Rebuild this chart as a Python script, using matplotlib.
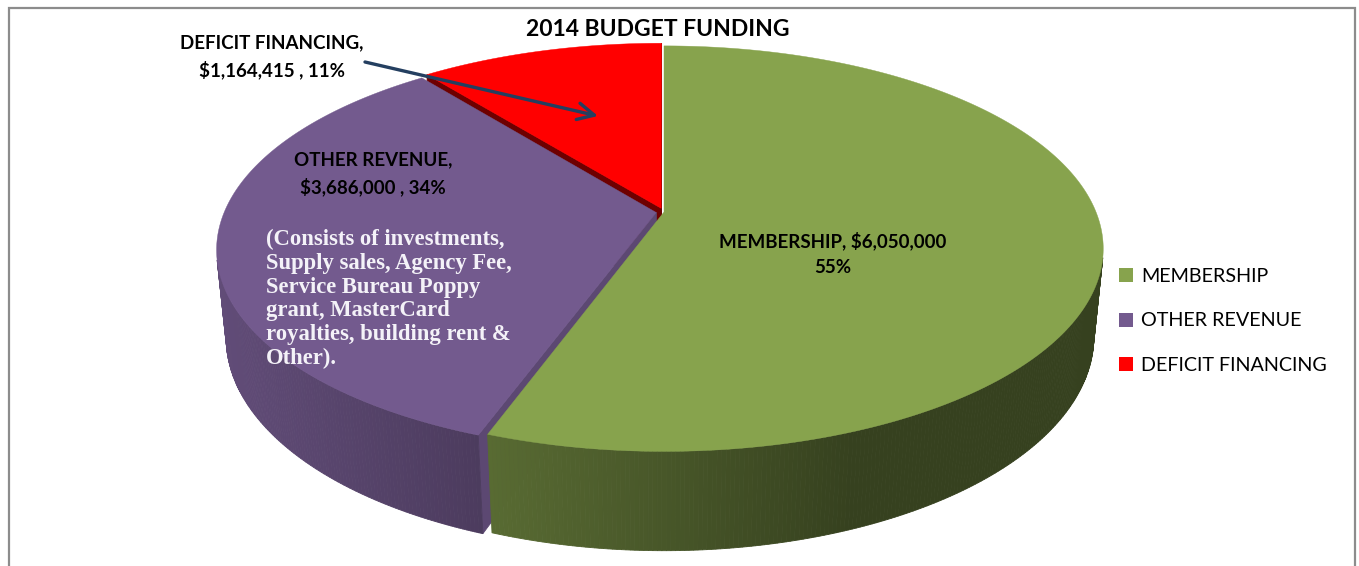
import numpy as np
import matplotlib
matplotlib.use("Agg")
import matplotlib.pyplot as plt
from matplotlib.patches import Polygon, Patch
from matplotlib.colors import to_rgb

# ── datos ────────────────────────────────────────────────────────────────────
title = "2014 BUDGET FUNDING"
labels = ["MEMBERSHIP", "OTHER REVENUE", "DEFICIT FINANCING"]
amounts = [6050000, 3686000, 1164415]
pct_labels = ["55%", "34%", "11%"]
note = ("(Consists of investments,\nSupply sales, Agency Fee,\nService Bureau Poppy\n"
        "grant, MasterCard\nroyalties, building rent &\nOther).")

colors = ["#87a34d", "#735a8e", "#ff0000"]
explode = [0.0, 0.018, 0.02]
cut_shade = [0.45, 0.80, 0.43]   # tono de las caras de corte radiales

# ── proyeccion en perspectiva del disco ──────────────────────────────────────
ELEV = np.radians(27)
DIST = 4.93
FOC = 432 * DIST
CX, CY = 664, 212
DEPTH = 0.23
CAM = np.array([0.0, -DIST * np.cos(ELEV), DIST * np.sin(ELEV)])


def project(X, Y, Z):
    d = DIST + Y * np.cos(ELEV) - Z * np.sin(ELEV)
    u = FOC * X / d
    v = FOC * (Y * np.sin(ELEV) + Z * np.cos(ELEV)) / d
    return CX + u, CY - v


def depth(X, Y, Z):
    return DIST + Y * np.cos(ELEV) - Z * np.sin(ELEV)


def shade(rgb, x):
    f = np.interp(x, [215, 850], [0.85, 0.40])
    return tuple(np.clip(np.array(rgb) * f, 0, 1))


fig = plt.figure(figsize=(13.59, 5.66), dpi=100)
ax = fig.add_axes([0, 0, 1, 1])
ax.set_xlim(0, 1359)
ax.set_ylim(566, 0)
ax.axis("off")

total = sum(amounts)
spans = [360 * a / total for a in amounts]
walls = []   # (profundidad, xy, color)
tops = []
start = 90.0
for i, sp in enumerate(spans):
    t2 = np.radians(start)
    t1 = np.radians(start - sp)
    mid = (t1 + t2) / 2
    ox, oy = explode[i] * np.cos(mid), explode[i] * np.sin(mid)
    rgb = to_rgb(colors[i])
    th = np.linspace(t2, t1, max(int(sp * 2), 8))

    # cara superior
    xs, ys = project(ox + np.cos(th), oy + np.sin(th), 0 * th)
    vx, vy = project(ox, oy, 0)
    tops.append((depth(ox + np.cos(mid) * 0.5, oy + np.sin(mid) * 0.5, 0),
                 np.column_stack([np.r_[vx, xs], np.r_[vy, ys]]), rgb))

    # pared exterior en tiras
    for a, b in zip(th[:-1], th[1:]):
        m = (a + b) / 2
        n = np.array([np.cos(m), np.sin(m), 0])
        p = np.array([ox + np.cos(m), oy + np.sin(m), 0])
        if np.dot(n, CAM - p) <= 0:
            continue
        ang = np.array([a, b, b, a])
        zz = np.array([0, 0, -DEPTH, -DEPTH])
        px, py = project(ox + np.cos(ang), oy + np.sin(ang), zz)
        walls.append((depth(p[0], p[1], -DEPTH / 2), np.column_stack([px, py]),
                      shade(rgb, px.mean())))

    # caras de corte radiales
    for t, nrm in ((t2, t2 + np.pi / 2), (t1, t1 - np.pi / 2)):
        n = np.array([np.cos(nrm), np.sin(nrm), 0])
        p = np.array([ox + 0.5 * np.cos(t), oy + 0.5 * np.sin(t), 0])
        if np.dot(n, CAM - p) <= 0:
            continue
        rr = np.array([0, 1, 1, 0])
        zz = np.array([0, 0, -DEPTH, -DEPTH])
        px, py = project(ox + rr * np.cos(t), oy + rr * np.sin(t), zz)
        walls.append((depth(p[0], p[1], -DEPTH / 2), np.column_stack([px, py]),
                      tuple(np.array(rgb) * cut_shade[i])))
    start -= sp

for _, xy, c in sorted(walls, key=lambda w: -w[0]):
    ax.add_patch(Polygon(xy, closed=True, fc=c, ec=c, lw=0.6))
for _, xy, c in sorted(tops, key=lambda w: -w[0]):
    ax.add_patch(Polygon(xy, closed=True, fc=c, ec=c, lw=0.3))

# ── textos ───────────────────────────────────────────────────────────────────
LAB = dict(fontfamily="Lato", fontweight="bold", fontsize=13.5, color="black",
           ha="center", va="center", linespacing=1.6)
ax.text(658, 30, title, fontfamily="Lato", fontweight="bold", fontsize=16.5,
        ha="center", va="center")
ax.text(833, 254, f"{labels[0]}, ${amounts[0]:,}\n{pct_labels[0]}", **LAB)
ax.text(373, 174, f"{labels[1]},\n${amounts[1]:,} , {pct_labels[1]}", **LAB)
ax.text(272, 57, f"{labels[2]},\n${amounts[2]:,} , {pct_labels[2]}", **LAB)
ax.text(266, 299, note, fontfamily="Liberation Serif", fontweight="bold",
        fontsize=16.3, color="#f4f2f8", ha="left", va="center", linespacing=1.18)

ax.annotate("", xy=(598, 116), xytext=(365, 62),
            arrowprops=dict(arrowstyle="->", color="#243f60", lw=2.4,
                            mutation_scale=30, shrinkA=0, shrinkB=0))

# ── leyenda ──────────────────────────────────────────────────────────────────
handles = [Patch(fc=c, ec="none") for c in colors]
ax.legend(handles, labels, loc="center left", bbox_to_anchor=(1101 / 1359, 1 - 321 / 566),
          frameon=False, prop=dict(family="Lato", size=14.2), handlelength=0.72,
          handleheight=0.72, handletextpad=0.42, labelspacing=1.4)

# ── marco ────────────────────────────────────────────────────────────────────
ax.plot([9, 9, 1355, 1355], [566, 8, 8, 566], color="#8c8c8c", lw=1.6,
        solid_joinstyle="miter")

fig.savefig("out.png", dpi=100)
